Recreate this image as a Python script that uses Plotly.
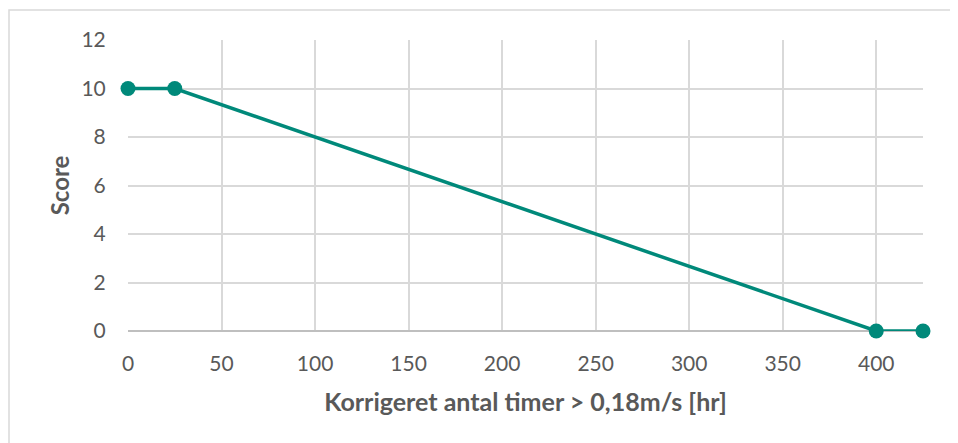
import plotly.graph_objects as go

hours = [0, 25, 400, 425]
score = [10, 10, 0, 0]
x_ticks = [0, 50, 100, 150, 200, 250, 300, 350, 400]
y_ticks = [0, 2, 4, 6, 8, 10, 12]

teal = "#00897A"
txt = "#595959"
font_family = "Lato, 'Open Sans', sans-serif"

W, H = 950, 435
L, R, T, B = 120, 35, 32, 112
pw, ph = W - L - R, H - T - B

fig = go.Figure()
fig.add_trace(go.Scatter(
    x=hours, y=score, mode="lines+markers",
    line=dict(color=teal, width=3.5),
    marker=dict(color=teal, size=15),
    showlegend=False, cliponaxis=False,
))

fig.update_layout(
    width=W, height=H,
    margin=dict(l=L, r=R, t=T, b=B),
    paper_bgcolor="white", plot_bgcolor="white",
    font=dict(family=font_family, color=txt, size=16),
    shapes=[dict(type="rect", xref="paper", yref="paper",
                 x0=(1 - L) / pw, x1=(W + 20 - L) / pw,
                 y0=-(B + 20) / ph, y1=1 + (T - 2) / ph,
                 line=dict(color="#d9d9d9", width=1.5), fillcolor="rgba(0,0,0,0)",
                 layer="below")],
)
fig.update_xaxes(
    range=[0, 425], tickvals=x_ticks, ticktext=[str(v) for v in x_ticks],
    showgrid=True, gridcolor="#d9d9d9", gridwidth=1.5,
    zeroline=False, showline=False, ticks="outside", ticklen=14, tickcolor="rgba(0,0,0,0)",
    tickfont=dict(size=21, color=txt),
    title=dict(text="<b>Korrigeret antal timer > 0,18m/s [hr]</b>", font=dict(size=25, color=txt), standoff=19),
)
fig.update_yaxes(
    range=[0, 12], tickvals=y_ticks, ticktext=[str(v) for v in y_ticks],
    showgrid=True, gridcolor="#d9d9d9", gridwidth=1.5,
    zeroline=True, zerolinecolor="#bfbfbf", zerolinewidth=1.5,
    showline=False, ticks="outside", ticklen=17, tickcolor="rgba(0,0,0,0)",
    tickfont=dict(size=21, color=txt),
    title=dict(text="<b>Score</b>", font=dict(size=24, color=txt), standoff=5),
)

fig.write_html("out.html")
